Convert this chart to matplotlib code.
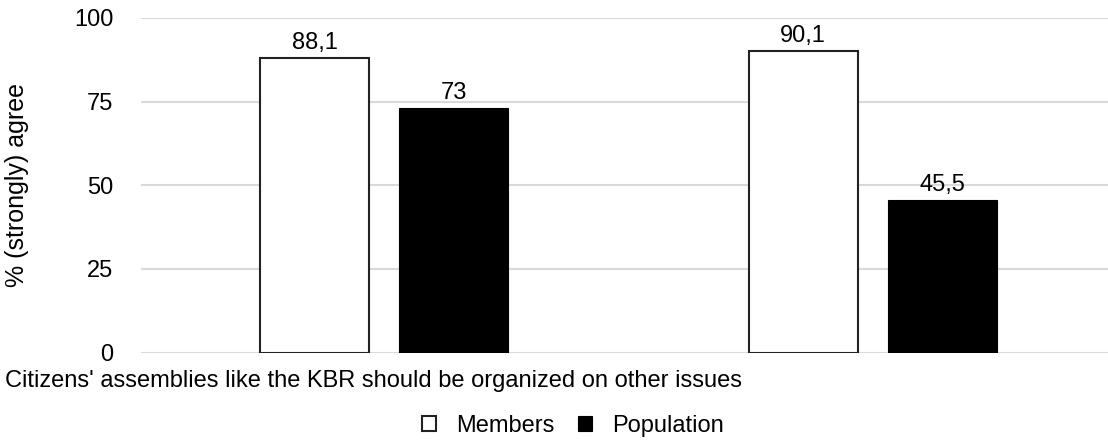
import matplotlib
matplotlib.use('Agg')
import matplotlib.pyplot as plt
import numpy as np

plt.rcParams['font.family'] = ['Liberation Sans', 'DejaVu Sans']

categories = ["Citizens' assemblies like the KBR should be organized on other issues", ""]
members = [88.1, 90.1]
population = [73, 45.5]
series_names = ['Members', 'Population']
yticks = [0, 25, 50, 75, 100]


def fmt(v):
    s = ('%g' % v)
    return s.replace('.', ',')


fig = plt.figure(figsize=(11.08, 4.4), dpi=100)
ax = fig.add_axes([141 / 1108, 1 - 352.5 / 440, 1 - 141 / 1108, 334.5 / 440])

x = np.arange(len(categories))
band = 488.5
w = 109 / band
gap = 30 / band
off = (w + gap) / 2

b1 = ax.bar(x - off, members, w, color='white', edgecolor='#222222', linewidth=1.5,
            label=series_names[0], zorder=3)
b2 = ax.bar(x + off, population, w, color='black', edgecolor='black', linewidth=0.8,
            label=series_names[1], zorder=3)

for bars, vals in ((b1, members), (b2, population)):
    for r, v in zip(bars, vals):
        ax.annotate(fmt(v), (r.get_x() + r.get_width() / 2, v), xytext=(0, 3),
                    textcoords='offset points', ha='center', va='bottom', fontsize=17)

ax.set_xlim(-(384 - 141) / band, (1108 - 384) / band)
ax.set_ylim(0, 100)
ax.set_yticks(yticks)
ax.tick_params(axis='y', length=0, labelsize=17, pad=20)
ax.set_xticks([])
ax.grid(axis='y', color='#d9d9d9', linewidth=1.5, zorder=0)
for s in ax.spines.values():
    s.set_visible(False)
ax.set_ylabel('% (strongly) agree', fontsize=18, labelpad=14)
ax.yaxis.set_label_coords(-(141 - 29) / 967, 0.5)

fig.text(5 / 1108, 1 - 387 / 440, categories[0], fontsize=17, ha='left', va='baseline')

fig.legend(loc='center', bbox_to_anchor=(573 / 1108, 1 - 426 / 440), ncol=2, frameon=False,
           fontsize=17, handlelength=0.6, handleheight=0.6, handletextpad=0.85,
           columnspacing=1.0)

fig.savefig('out.png', dpi=100)
